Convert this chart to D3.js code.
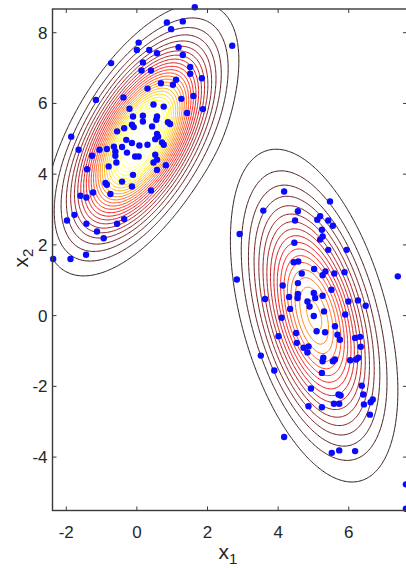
<!DOCTYPE html>
<html>
<head>
<meta charset="utf-8">
<script src="https://cdn.jsdelivr.net/npm/d3@7"></script>
<style>
  html, body { margin: 0; padding: 0; background: #fff; }
  svg text { font-family: "Liberation Sans", Arial, Helvetica, sans-serif; fill: #262626; }
</style>
</head>
<body>
<svg id="chart" width="406" height="568"></svg>
<script>
// Observed samples, first cluster (x1, x2)
const clusterA = [
  [1.64, 8.72], [0.85, 8.29], [1.30, 8.32], [0.97, 8.10], [0.05, 7.72], [0.00, 7.51],
  [0.35, 7.51], [0.57, 7.42], [1.18, 7.59], [1.30, 7.37], [-0.73, 7.14], [0.17, 7.16],
  [0.13, 6.93], [0.40, 6.93], [1.51, 7.03], [1.51, 6.84], [1.84, 6.71], [1.11, 6.67],
  [1.02, 6.53], [0.68, 6.57], [0.30, 6.42], [1.60, 6.21], [1.26, 6.13], [1.87, 5.84],
  [-1.16, 6.10], [-0.38, 6.17], [-0.21, 5.85], [0.47, 5.97], [0.76, 5.91], [1.42, 5.73],
  [-0.11, 5.63], [0.17, 5.65], [0.17, 5.49], [0.57, 5.63], [0.55, 5.54], [-0.14, 5.40],
  [0.43, 5.35], [0.88, 5.47], [0.94, 5.42], [-0.36, 5.30], [-0.09, 5.33], [-0.56, 5.21],
  [0.57, 5.14], [-1.86, 5.06], [-0.30, 4.97], [-0.14, 4.88], [0.52, 4.99], [0.71, 4.90],
  [0.07, 4.81], [0.30, 4.83], [0.76, 4.83], [-1.65, 4.69], [-1.06, 4.69], [-0.85, 4.71],
  [-0.61, 4.64], [-0.42, 4.77], [-0.28, 4.61], [-0.61, 4.52], [-1.27, 4.52], [-0.05, 4.50],
  [0.05, 4.50], [0.52, 4.55], [0.57, 4.41], [-0.58, 4.33], [0.47, 4.33], [0.82, 4.25],
  [0.57, 4.12], [-0.80, 4.22], [-1.41, 4.14], [-0.11, 3.98], [-0.89, 3.75], [-0.42, 3.79],
  [-0.85, 3.70], [-0.14, 3.65], [0.40, 3.54], [-1.24, 3.48], [-1.60, 3.39], [-1.43, 3.34],
  [-0.75, 3.44], [-1.77, 2.85], [-1.98, 2.69], [-1.43, 2.60], [-0.56, 2.60], [-0.36, 2.73],
  [-1.13, 2.38], [-0.94, 2.19], [-2.37, 1.60], [-1.88, 1.60], [-1.44, 1.72], [2.70, 7.63],
  [-0.65, 4.78], [0.60, 5.06]
];

// Observed samples, second cluster (x1, x2)
const clusterB = [
  [4.17, 3.51], [5.47, 3.23], [3.58, 2.97], [4.56, 2.95], [4.48, 2.69], [5.11, 2.71],
  [5.19, 2.81], [5.42, 2.69], [5.55, 2.54], [5.24, 2.43], [2.91, 2.31], [5.19, 2.15],
  [5.26, 2.24], [4.46, 2.06], [5.42, 1.86], [5.94, 1.86], [4.44, 1.51], [4.57, 1.53],
  [4.67, 1.19], [5.02, 1.32], [5.26, 1.14], [5.34, 1.25], [5.59, 1.19], [5.88, 1.23],
  [2.83, 1.02], [4.13, 0.85], [4.56, 0.92], [5.51, 0.73], [7.39, 1.11], [3.63, 0.47],
  [4.31, 0.53], [4.56, 0.61], [4.55, 0.50], [5.01, 0.64], [5.05, 0.50], [5.26, 0.56],
  [4.83, 0.40], [4.34, 0.19], [4.89, 0.26], [5.30, 0.12], [5.90, 0.03], [5.99, 0.40],
  [6.26, 0.43], [6.48, 0.28], [4.10, -0.06], [5.01, -0.01], [5.61, -0.30], [5.09, -0.44],
  [5.33, -0.47], [4.51, -0.49], [4.01, -0.58], [5.68, -0.54], [5.75, -0.68], [6.18, -0.63],
  [6.32, -0.60], [6.34, -0.88], [4.53, -0.77], [4.72, -0.91], [4.86, -0.87], [4.83, -1.04],
  [3.51, -1.13], [5.28, -1.19], [5.26, -1.29], [5.55, -1.29], [5.61, -1.24], [6.04, -1.26],
  [6.21, -1.24], [6.27, -1.19], [3.89, -1.55], [5.24, -1.62], [4.93, -2.06], [6.37, -1.98],
  [6.41, -2.23], [5.71, -2.23], [5.77, -2.26], [6.68, -2.37], [6.62, -2.45], [5.58, -2.49],
  [5.73, -2.49], [6.43, -2.51], [4.86, -2.56], [5.24, -2.59], [6.60, -2.80], [4.17, -3.43],
  [5.52, -3.88], [5.73, -3.81], [6.18, -3.83], [7.62, -4.77], [7.62, -5.46]
];

// Axis setup
const xTicks = [-2, 0, 2, 4, 6];
const yTicks = [-4, -2, 0, 2, 4, 6, 8];
const xDomain = [-2.39, 7.65];
const yDomain = [-5.51, 8.67];

// Two-component Gaussian mixture whose density is contoured
const mixWeights = [0.55, 0.45];
const mixMeans = [[0.12, 4.98], [5.02, 0.00]];
const mixCovs = [
  [[1.132, 0.932], [0.932, 2.208]],
  [[0.984, -0.883], [-0.883, 3.873]]
];
const levelCount = 28;

const svg = d3.select("#chart");
const plot = { left: 52.5, right: 407, top: 9, bottom: 510.5 };

const x = d3.scaleLinear().domain(xDomain).range([plot.left, plot.right]);
const y = d3.scaleLinear().domain(yDomain).range([plot.bottom, plot.top]);

// Gaussian mixture density
const comps = mixMeans.map((m, i) => {
  const c = mixCovs[i];
  const det = c[0][0] * c[1][1] - c[0][1] * c[1][0];
  const inv = [[c[1][1] / det, -c[0][1] / det], [-c[1][0] / det, c[0][0] / det]];
  return { w: mixWeights[i], m, inv, norm: 1 / (2 * Math.PI * Math.sqrt(det)) };
});
function density(px, py) {
  let s = 0;
  for (const k of comps) {
    const dx = px - k.m[0], dy = py - k.m[1];
    const q = dx * (k.inv[0][0] * dx + k.inv[0][1] * dy) + dy * (k.inv[1][0] * dx + k.inv[1][1] * dy);
    s += k.w * k.norm * Math.exp(-0.5 * q);
  }
  return s;
}

// Sample the density on a grid a little larger than the visible area
const g = { x0: -4.5, x1: 9.5, y0: -7.5, y1: 10.5, step: 0.035 };
const nx = Math.ceil((g.x1 - g.x0) / g.step) + 1;
const ny = Math.ceil((g.y1 - g.y0) / g.step) + 1;
const values = new Float64Array(nx * ny);
for (let j = 0; j < ny; j++) {
  const gy = g.y0 + j * g.step;
  for (let i = 0; i < nx; i++) values[j * nx + i] = density(g.x0 + i * g.step, gy);
}
const zMax = d3.max(values);
const levels = d3.range(1, levelCount + 1).map(k => zMax * k / (levelCount + 1));

// "hot" colour map: black -> red -> yellow -> white
function hot(t) {
  const r = Math.min(1, t / 0.375);
  const gg = Math.max(0, Math.min(1, (t - 0.375) / 0.375));
  const b = Math.max(0, Math.min(1, (t - 0.75) / 0.25));
  return d3.rgb(r * 255, gg * 255, b * 255).toString();
}

const gridToScreen = d3.geoTransform({
  point(cx, cy) {
    this.stream.point(x(g.x0 + (cx - 0.5) * g.step), y(g.y0 + (cy - 0.5) * g.step));
  }
});
const path = d3.geoPath(gridToScreen);

svg.append("clipPath").attr("id", "plot-clip")
  .append("rect")
  .attr("x", plot.left).attr("y", plot.top)
  .attr("width", plot.right - plot.left).attr("height", plot.bottom - plot.top);

const contours = d3.contours().size([nx, ny]).thresholds(levels)(values);

svg.append("g").attr("clip-path", "url(#plot-clip)")
  .selectAll("path")
  .data(contours)
  .join("path")
  .attr("d", path)
  .attr("fill", "none")
  .attr("stroke", d => hot(d.value / zMax))
  .attr("stroke-width", 0.9);

// Sample points
const allPoints = clusterA.concat(clusterB);
svg.append("g")
  .selectAll("circle")
  .data(allPoints)
  .join("circle")
  .attr("cx", d => x(d[0]))
  .attr("cy", d => y(d[1]))
  .attr("r", 3.2)
  .attr("fill", "#0a0aff");

// Frame and ticks (ticks pointing inward on all four sides)
const axisColor = "#3a3a3a";
const tickLen = 4;
const frame = svg.append("g");
frame.append("rect")
  .attr("x", plot.left).attr("y", plot.top)
  .attr("width", plot.right - plot.left).attr("height", plot.bottom - plot.top)
  .attr("fill", "none").attr("stroke", axisColor).attr("stroke-width", 1.4);

frame.selectAll(".xt").data(xTicks).join("path")
  .attr("d", d => `M${x(d)},${plot.bottom}v${-tickLen}M${x(d)},${plot.top}v${tickLen}`)
  .attr("stroke", axisColor).attr("stroke-width", 1);
frame.selectAll(".yt").data(yTicks).join("path")
  .attr("d", d => `M${plot.left},${y(d)}h${tickLen}M${plot.right},${y(d)}h${-tickLen}`)
  .attr("stroke", axisColor).attr("stroke-width", 1);

svg.append("g").selectAll("text").data(xTicks).join("text")
  .attr("x", d => x(d)).attr("y", plot.bottom + 27)
  .attr("text-anchor", "middle").attr("font-size", 17)
  .text(d => d);

svg.append("g").selectAll("text").data(yTicks).join("text")
  .attr("x", plot.left - 5).attr("y", d => y(d) + 6)
  .attr("text-anchor", "end").attr("font-size", 17)
  .text(d => d);

// Axis titles with subscripts
const xl = svg.append("text")
  .attr("x", 228).attr("y", 559)
  .attr("text-anchor", "middle").attr("font-size", 21);
xl.append("tspan").text("x");
xl.append("tspan").attr("font-size", 15).attr("dy", 5).text("1");

const yl = svg.append("text")
  .attr("transform", "translate(28,258) rotate(-90)")
  .attr("text-anchor", "middle").attr("font-size", 21);
yl.append("tspan").text("x");
yl.append("tspan").attr("font-size", 15).attr("dy", 5).text("2");
</script>
</body>
</html>
